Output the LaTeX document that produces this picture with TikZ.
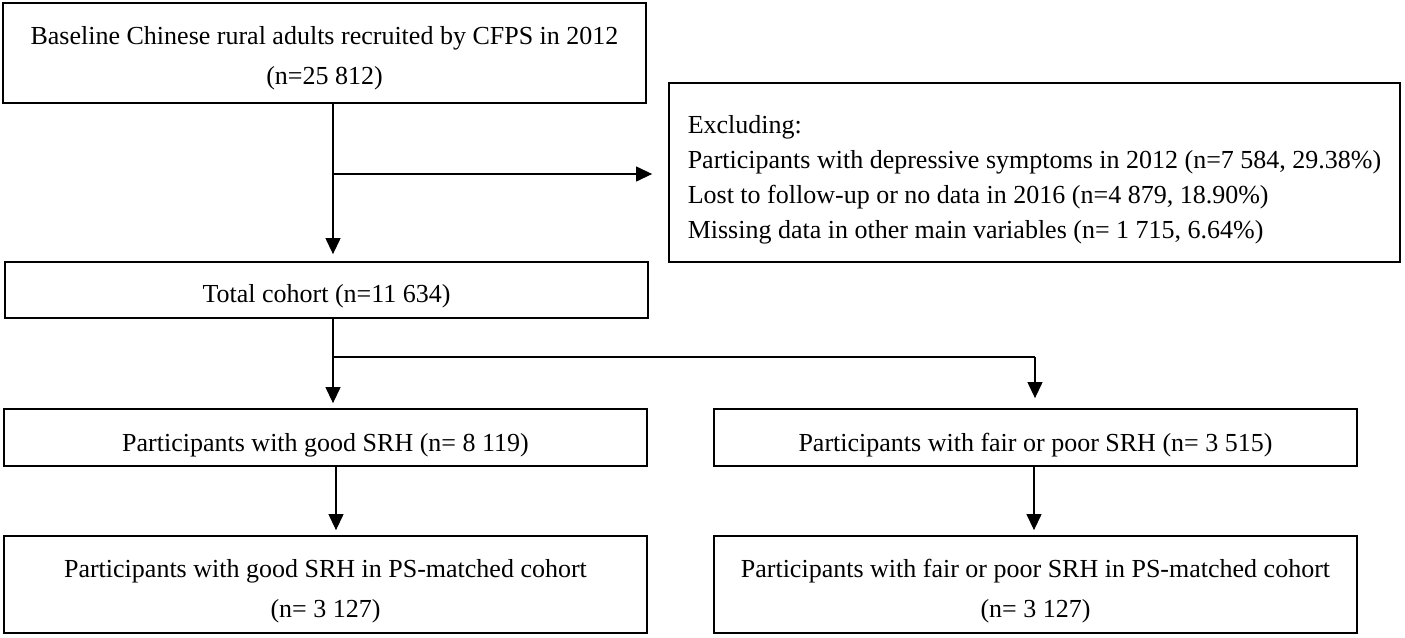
\documentclass[tikz,border=0pt]{standalone}
\usepackage{fontspec}
\setmainfont{Liberation Serif}
\usetikzlibrary{arrows.meta}
\newcommand{\lift}[1]{\rule{0pt}{#1pt}}
\begin{document}
\begin{tikzpicture}[x=0.5pt,y=-0.5pt,
  box/.style={draw, line width=0.9pt, inner sep=0pt, minimum width=321.5pt, align=center,
              font=\fontsize{13}{20}\selectfont},
  arr/.style={line width=0.6pt, -{Triangle[length=8pt,width=7.5pt]}},
  ln/.style={line width=0.6pt}]
\useasboundingbox (0,0) rectangle (1405,638);
\node[box, minimum height=50pt] (top) at (324.5,53) {\lift{14}Baseline Chinese rural adults recruited by CFPS in 2012\\(n=25 812)};
\node[box, minimum width=365.5pt, minimum height=89.5pt, align=left, font=\fontsize{13}{17.5}\selectfont] (excl) at (1034.5,172.5)
  {\lift{16}Excluding:\\Participants with depressive symptoms in 2012 (n=7 584, 29.38\%)\\Lost to follow-up or no data in 2016 (n=4 879, 18.90\%)\\Missing data in other main variables (n= 1 715, 6.64\%)};
\node[box, minimum height=28pt] (total) at (326.5,290) {\lift{15}Total cohort (n=11 634)};
\node[box, minimum height=28.5pt] (good) at (325.5,437.5) {\lift{17}Participants with good SRH (n= 8 119)};
\node[box, minimum height=28.5pt] (fair) at (1035.5,437.5) {\lift{17}Participants with fair or poor SRH (n= 3 515)};
\node[box, minimum height=48.5pt] (goodps) at (325.5,584.5) {\lift{16}Participants with good SRH in PS-matched cohort\\(n= 3 127)};
\node[box, minimum height=48.5pt] (fairps) at (1035.5,584.5) {\lift{16}Participants with fair or poor SRH in PS-matched cohort\\(n= 3 127)};
\coordinate (j1) at (333,174);
\coordinate (j2) at (333,357);
\coordinate (j3) at (1035,357);
\draw[ln] (top.south -| j1) -- (j1);
\draw[arr, shorten >=3.5pt] (j1) -- (total.north -| j1);
\draw[arr, shorten >=8pt] (j1) -- (excl.west |- j1);
\draw[ln] (total.south -| j2) -- (j2) -- (j3);
\draw[arr, shorten >=2.5pt] (j2) -- (good.north -| j2);
\draw[arr, shorten >=5pt] (j3) -- (fair.north -| j3);
\coordinate (k1) at (336,0);
\coordinate (k2) at (1034,0);
\draw[arr, shorten >=2.5pt] (good.south -| k1) -- (goodps.north -| k1);
\draw[arr, shorten >=2.5pt] (fair.south -| k2) -- (fairps.north -| k2);
\end{tikzpicture}
\end{document}
